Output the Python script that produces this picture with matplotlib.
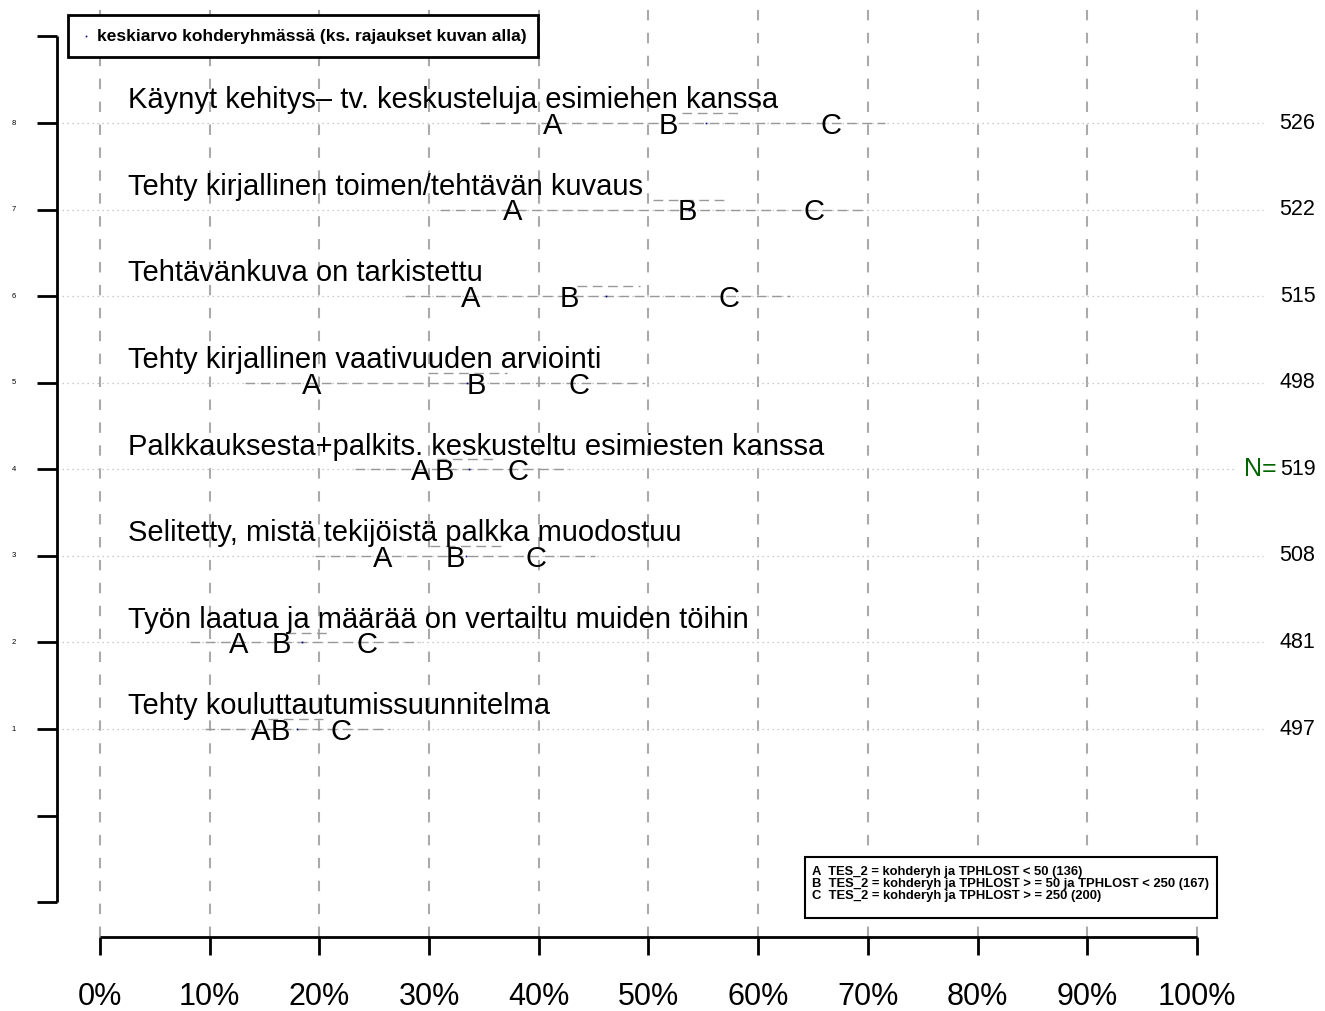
import matplotlib.pyplot as plt

plt.rcParams['font.family'] = ['Liberation Sans', 'DejaVu Sans']

# rows from bottom (1) to top (8)
items = [
    "Tehty kouluttautumissuunnitelma",
    "Työn laatua ja määrää on vertailtu muiden töihin",
    "Selitetty, mistä tekijöistä palkka muodostuu",
    "Palkkauksesta+palkits. keskusteltu esimiesten kanssa",
    "Tehty kirjallinen vaativuuden arviointi",
    "Tehtävänkuva on tarkistettu",
    "Tehty kirjallinen toimen/tehtävän kuvaus",
    "Käynyt kehitys– tv. keskusteluja esimiehen kanssa",
]
grp_a = [14.6, 12.6, 25.8, 29.2, 19.3, 33.8, 37.6, 41.3]
grp_b = [16.4, 16.5, 32.4, 31.4, 34.3, 42.8, 53.5, 51.8]
grp_c = [22.0, 24.3, 39.7, 38.1, 43.7, 57.3, 65.1, 66.6]
range_lo = [9.6, 8.2, 19.6, 23.2, 13.2, 27.8, 31.0, 34.6]
range_hi = [26.4, 29.2, 45.1, 42.8, 49.7, 62.9, 69.7, 71.6]
ci_lo = [15.3, 17.0, 30.1, 30.7, 29.9, 43.5, 50.4, 53.1]
ci_hi = [20.3, 20.7, 36.6, 35.8, 37.1, 49.2, 57.0, 58.2]
target_mean = [18.0, 18.4, 33.4, 33.6, 33.5, 46.1, 53.7, 55.2]
n_obs = [497, 481, 508, 519, 498, 515, 522, 526]
x_ticks = list(range(0, 101, 10))
legend_lines = [
    "A  TES_2 = kohderyh ja TPHLOST < 50 (136)",
    "B  TES_2 = kohderyh ja TPHLOST > = 50 ja TPHLOST < 250 (167)",
    "C  TES_2 = kohderyh ja TPHLOST > = 250 (200)",
]

fig = plt.figure(figsize=(13.25, 10.11), dpi=100)
ax = fig.add_axes([0, 0, 1, 1])
ax.set_xlim(-9.116, 111.67)
ax.set_ylim(-2.257, 9.421)
ax.axis('off')

grid_col = '#aaaaaa'

# vertical grid
for t in x_ticks:
    ax.plot([t, t], [-1.40, 9.421], color=grid_col, lw=1.5, ls=(0, (5, 6)), zorder=1)

# x axis
ax.plot([0, 100], [-1.403, -1.403], color='black', lw=2, solid_capstyle='butt')
for t in x_ticks:
    ax.plot([t, t], [-1.403, -1.611], color='black', lw=2, solid_capstyle='butt')
    ax.text(t, -2.10, f"{t}%", fontsize=22, ha='center', va='center')

# y axis
ya_x = -3.92
ax.plot([ya_x, ya_x], [-1, 9], color='black', lw=2, solid_capstyle='butt')
for yv in range(-1, 10):
    ax.plot([ya_x, -5.74], [yv, yv], color='black', lw=2, solid_capstyle='butt')
for i in range(len(items)):
    ax.text(-7.85, i + 1, str(i + 1), fontsize=5.5, ha='center', va='center')

for i, label in enumerate(items):
    y = i + 1
    x_end = 103.5 if n_obs[i] == 519 else 106
    ax.plot([ya_x, x_end], [y, y], color='#bbbbbb', lw=0.9, ls=(0, (1, 3)), zorder=1)
    ax.plot([range_lo[i], range_hi[i]], [y, y], color='#999999', lw=1.0,
            ls=(0, (7, 4)), zorder=2)
    ax.plot([ci_lo[i], ci_hi[i]], [y + 0.115, y + 0.115], color='#999999', lw=1.0,
            ls=(0, (7, 4)), zorder=2)
    ax.plot(target_mean[i], y, marker='s', ms=1.2, color='#000080', mec='none', zorder=3)
    ax.text(2.55, y + 0.17, label, fontsize=21, ha='left', va='baseline', zorder=4)
    for letter, vals in zip("ABC", (grp_a, grp_b, grp_c)):
        ax.text(vals[i], y - 0.125, letter, fontsize=21, ha='center', va='baseline', zorder=4)
    ax.text(110.8, y, str(n_obs[i]), fontsize=15.5, ha='right', va='center')
    if n_obs[i] == 519:
        ax.text(107.3, y, "N=", fontsize=18, color='#006400', ha='right', va='center')

# legend box at the top
ax.add_patch(plt.Rectangle((-2.92, 8.76), 42.85, 0.485, fill=True, facecolor='white',
                           edgecolor='black', lw=2, zorder=5))
ax.plot(-1.27, 9.005, marker='s', ms=1.2, color='#000080', mec='none', zorder=6)
ax.text(-0.3, 9.005, "keskiarvo kohderyhmässä (ks. rajaukset kuvan alla)", fontsize=12.5,
        fontweight='bold', ha='left', va='center', zorder=6)

# group definitions box
ax.add_patch(plt.Rectangle((64.27, -1.183), 37.56, 0.704, fill=True, facecolor='white',
                           edgecolor='black', lw=1.5, zorder=5))
for k, line in enumerate(legend_lines):
    ax.text(64.9, -0.652 - k * 0.139, line, fontsize=9.4, fontweight='bold',
            ha='left', va='center', zorder=6)

fig.savefig("out.png", dpi=100)
